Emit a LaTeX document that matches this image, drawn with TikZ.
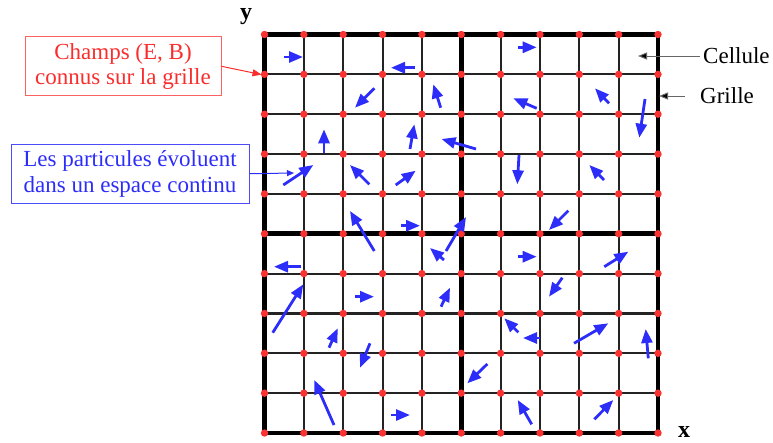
\documentclass[tikz,border=0pt]{standalone}
\usepackage{fontspec}
\setmainfont{Liberation Serif}
\usetikzlibrary{arrows.meta}
\definecolor{pblue}{RGB}{45,45,250}
\definecolor{dotred}{RGB}{250,50,50}
\definecolor{lred}{RGB}{250,45,45}
\definecolor{gridgray}{RGB}{35,35,35}
\begin{document}
\begin{tikzpicture}[x=1pt,y=-1pt,
  part/.style={pblue, line width=2.8pt, -{Triangle[length=14pt,width=11pt]}},
  gridthin/.style={gridgray, line width=2.1pt},
  gridthick/.style={black, line width=4.8pt},
  lbl/.style={font=\fontsize{23}{25.5}\selectfont, align=center, inner sep=2pt},
  redbox/.style={lbl, draw=lred!75, text=lred, line width=1pt, minimum width=196pt, minimum height=59pt},
  bluebox/.style={lbl, draw=pblue!85, text=pblue, line width=1pt, minimum width=238pt, minimum height=59pt},
  redptr/.style={lred, line width=1pt, -{Triangle[length=9pt,width=7pt]}},
  blueptr/.style={pblue, line width=1pt, -{Triangle[length=7pt,width=6pt]}},
  blackptr/.style={black!60, line width=1pt, -{Triangle[length=9pt,width=7pt,fill=black]}},
  axis/.style={font=\bfseries\fontsize{24}{24}\selectfont, inner sep=0pt}
]
\useasboundingbox (0,0) rectangle (773,442);
% thin grid
\foreach \i in {1,...,9}{
  \pgfmathsetmacro\xx{264.5+39.35*\i}
  \pgfmathsetmacro\yy{34.5+39.85*\i}
  \draw[gridthin] (\xx,34.5) -- (\xx,433);
  \draw[gridthin] (264.5,\yy) -- (658,\yy);
}
% thick lines
\draw[gridthick] (264.5,34.5) rectangle (658,433);
\draw[gridthick] (461.25,34.5) -- (461.25,433);
\draw[gridthick] (264.5,233.75) -- (658,233.75);
% red dots
\foreach \i in {0,...,10}{
  \foreach \j in {0,...,10}{
    \pgfmathsetmacro\xx{264.5+39.35*\i}
    \pgfmathsetmacro\yy{34.5+39.85*\j}
    \fill[dotred] (\xx,\yy) circle (3.7pt);
  }
}
% particles
\foreach \a/\b/\c/\d in {
  284/57/303/57, 415/67.7/391/67.7, 374.3/88.3/355/107.7, 440.7/107.7/433.3/84.3,
  324/153.3/324/129.3, 410/149/414.3/124.3, 476/149/441.5/139, 283.3/185/313.3/165,
  369.3/184.3/350/165, 395.7/185/415.7/170.7, 374.3/251/350/211, 401/225.7/420/225.7,
  446/251/466/217,
  518.3/47.3/536.7/47.3, 536.7/108.3/513.3/98.3, 609/103.3/595/88.3, 645/99/639.3/137.7,
  519/155/517.3/184.3, 604/180/589.3/165, 568.3/210.7/549/230,
  301/266.7/274/266.7, 272.7/332.7/303.3/284.3, 355/296.7/374/296.7, 444/260/430/248,
  441/306.7/450/287.7, 329/347.7/337.7/328.3, 370/343.3/360/367.7, 334/425/314.3/380,
  391/415/410/415,
  518.3/256.7/536.7/256.7, 604.3/266.7/628.3/251.7, 562.3/277.7/549/296.7,
  518.3/332.3/504.3/318.3, 540/338/523/338, 574/343.3/608.3/323.3, 648.3/358.3/645.7/329,
  487.3/364/467.3/383.3, 531.7/424.3/517.7/400, 594.3/419.3/613.3/400}{
  \draw[part] (\a,\b) -- (\c,\d);
}
% labels
\node[redbox] (champs) at (123,66.3) {Champs (E, B)\\connus sur la grille};
\coordinate (gridpt) at (261.5,74.6);
\draw[redptr] (champs.east) -- (gridpt);
\node[bluebox] (parts) at (130,173.7) {Les particules évoluent\\dans un espace continu};
\coordinate (partpt) at (294,173);
\draw[blueptr] (parts.east) -- (partpt);
\node[lbl, anchor=west, inner sep=3pt] (cellule) at (700,56) {Cellule};
\coordinate (cellpt) at (638,56);
\draw[blackptr] (cellule.west) -- (cellpt);
\node[lbl, anchor=west, inner sep=3pt] (grille) at (697,96) {Grille};
\coordinate (grillept) at (659,96);
\draw[blackptr] ([xshift=-12pt]grille.west) -- (grillept);
\node[axis] (ylab) at (246,17) {y};
\node[axis] (xlab) at (684,432) {x};
\end{tikzpicture}
\end{document}
